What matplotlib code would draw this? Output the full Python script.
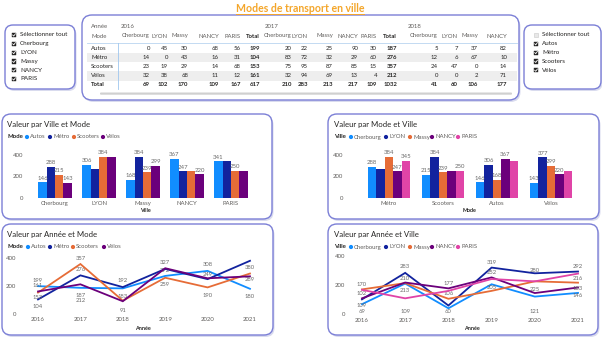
import numpy as np
import matplotlib.pyplot as plt
from matplotlib.patches import FancyBboxPatch, Rectangle, Circle

plt.rcParams['font.family'] = ['Lato', 'DejaVu Sans']

W, H = 602, 337

modes = ['Autos', 'Métro', 'Scooters', 'Vélos']
villes = ['Cherbourg', 'LYON', 'Massy', 'NANCY', 'PARIS']
annees = [2016, 2017, 2018, 2019, 2020, 2021]

# matrix table: rows = modes, columns = villes
tab_2016 = [[0, 45, 30, 68, 56],
            [14, 0, 43, 16, 31],
            [23, 19, 29, 14, 68],
            [32, 38, 68, 11, 12]]
tab_2017 = [[20, 22, 25, 90, 30],
            [83, 72, 32, 29, 60],
            [75, 95, 87, 85, 15],
            [32, 94, 69, 13, 4]]
# 2018: only the first four cities fit before the scroll
tab_2018 = [[5, 7, 37, 82],
            [12, 6, 67, 10],
            [24, 47, 0, 14],
            [0, 0, 2, 71]]

# totals per ville (rows) and mode (columns, same order as modes)
ville_mode = [[146, 288, 215, 143],
              [306, 270, 384, 377],
              [168, 384, 239, 299],
              [367, 247, 250, 220],
              [341, 345, 250, 250]]
ordre_modes_bis = ['Métro', 'Scooters', 'Autos', 'Vélos']

# yearly totals per mode
autos_an = [199, 187, 183, 272, 308, 180]
metro_an = [104, 276, 192, 322, 249, 380]
scooters_an = [153, 357, 95, 259, 190, 289]
velos_an = [161, 212, 91, 327, 255, 269]

# yearly totals per ville
cherbourg_an = [69, 210, 41, 205, 121, 146]
lyon_an = [102, 283, 60, 319, 280, 292]
massy_an = [170, 213, 106, 160, 225, 216]
nancy_an = [109, 217, 177, 252, 145, 183]
paris_an = [167, 109, 160, 241, 225, 278]

col_mode = {'Autos': '#118DFF', 'Métro': '#12239E', 'Scooters': '#E66C37', 'Vélos': '#6B007B'}
col_ville = {'Cherbourg': '#118DFF', 'LYON': '#12239E', 'Massy': '#E66C37',
             'NANCY': '#6B007B', 'PARIS': '#E044A7'}

DARK = '#252423'
GREY = '#605E5C'
LAB = '#6a6a6a'
BORDER = '#7b7fd6'

fig = plt.figure(figsize=(W / 100, H / 100), dpi=100)
bg = fig.add_axes([0, 0, 1, 1])
bg.set_xlim(0, W)
bg.set_ylim(H, 0)
bg.axis('off')


def px_axes(x0, y0, x1, y1):
    ax = fig.add_axes([x0 / W, 1 - y1 / H, (x1 - x0) / W, (y1 - y0) / H])
    ax.patch.set_alpha(0)
    for s in ax.spines.values():
        s.set_visible(False)
    ax.tick_params(length=0, labelsize=4.3, labelcolor=GREY)
    return ax


def panel(x0, y0, x1, y1, r=9):
    bg.add_patch(FancyBboxPatch((x0 + 1.5, y0 + 2), x1 - x0, y1 - y0,
                                boxstyle=f'round,pad=0,rounding_size={r}',
                                fc='#d9dbee', ec='none', zorder=1))
    bg.add_patch(FancyBboxPatch((x0, y0), x1 - x0, y1 - y0,
                                boxstyle=f'round,pad=0,rounding_size={r}',
                                fc='white', ec=BORDER, lw=1.0, zorder=2))


def checkbox(x, y, checked):
    s = 4.2
    if checked:
        bg.add_patch(Rectangle((x - s / 2, y - s / 2), s, s, fc=DARK, ec=DARK, lw=0.3, zorder=5))
        bg.plot([x - 1.3, x - 0.3, x + 1.4], [y, y + 1.1, y - 1.2], color='white', lw=0.6, zorder=6)
    else:
        bg.add_patch(Rectangle((x - s / 2, y - s / 2), s, s, fc='#e8e8e8', ec='#c8c8c8', lw=0.4, zorder=5))


def legend(x_title, y, title, names, dots_x, colors):
    bg.text(x_title, y, title, fontsize=4.3, weight='bold', color=DARK, va='center', zorder=5)
    for name, dx in zip(names, dots_x):
        bg.add_patch(Circle((dx, y), 2.1, fc=colors[name], ec='none', zorder=5))
        bg.text(dx + 3, y, name, fontsize=4.3, color=GREY, va='center', zorder=5)


# ---- title ----
t = bg.text(300, 8, 'Modes de transport en ville', fontsize=7.6, weight='bold',
            color='#F4A62A', ha='center', va='center', zorder=5)
fig.canvas.draw()
bb = t.get_window_extent().transformed(bg.transData.inverted())
bg.plot([bb.x0, bb.x1], [13.5, 13.5], color='#F4A62A', lw=0.7, zorder=5)

# ---- slicers ----
panel(5, 25, 75, 89, r=8)
checkbox(14, 35, True)
bg.text(20, 35, 'Sélectionner tout', fontsize=4.5, color=DARK, va='center', zorder=5)
for k, v in enumerate(villes):
    checkbox(14, 43.8 + 8.8 * k, True)
    bg.text(20, 43.8 + 8.8 * k, v, fontsize=4.5, color=DARK, va='center', zorder=5)

panel(524, 25, 601, 89, r=8)
checkbox(536, 35, False)
bg.text(542, 35, 'Sélectionner tout', fontsize=4.5, color=DARK, va='center', zorder=5)
for k, m in enumerate(modes):
    checkbox(536, 43.8 + 8.8 * k, True)
    bg.text(542, 43.8 + 8.8 * k, m, fontsize=4.5, color=DARK, va='center', zorder=5)

# ---- matrix ----
panel(82, 15, 519, 100, r=10)
row_y = [48, 57.3, 66.6, 75.9, 84.6]
for r in (1, 3):
    bg.add_patch(Rectangle((87, row_y[r] - 4.6), 430, 9.2, fc='#eeeeee', ec='none', zorder=3))
bg.plot([87, 517], [43, 43], color='#b9d5f0', lw=0.6, zorder=4)
bg.plot([118, 118], [43, 89], color='#9fc6ee', lw=0.6, zorder=4)
bg.add_patch(FancyBboxPatch((100, 92.5), 412, 2.2, boxstyle='round,pad=0,rounding_size=1',
                            fc='#d0d0d0', ec='none', zorder=4))
fs_t = 4.3
bg.text(91, 27, 'Année', fontsize=fs_t, color=GREY, va='center', zorder=5)
bg.text(91, 36, 'Mode', fontsize=fs_t, color=GREY, va='center', zorder=5)
for r, name in enumerate(modes + ['Total']):
    bg.text(91, row_y[r], name, fontsize=fs_t, color=DARK, va='center', zorder=5,
            weight='bold' if name == 'Total' else 'normal')


def year_block(year, year_x, cols_x, tab):
    bg.text(year_x, 27, str(year), fontsize=fs_t, color=GREY, va='center', zorder=5)
    arr = np.array(tab)
    n = arr.shape[1]
    with_total = len(cols_x) > n
    heads = villes[:n] + (['Total'] if with_total else [])
    for cx, hname in zip(cols_x, heads):
        bg.text(cx, 36, hname, fontsize=fs_t, color=GREY if hname != 'Total' else DARK,
                weight='bold' if hname == 'Total' else 'normal', ha='right', va='center', zorder=5)
    full = np.vstack([arr, arr.sum(axis=0)])
    if with_total:
        full = np.hstack([full, full.sum(axis=1, keepdims=True)])
    for r in range(full.shape[0]):
        for c in range(full.shape[1]):
            bold = r == full.shape[0] - 1 or (with_total and c == full.shape[1] - 1)
            bg.text(cols_x[c], row_y[r], str(full[r, c]), fontsize=fs_t, color=DARK,
                    weight='bold' if bold else 'normal', ha='right', va='center', zorder=5)


year_block(2016, 121, [150, 168, 188, 219, 241, 260], tab_2016)
year_block(2017, 265, [292, 308, 333, 358, 377, 397], tab_2017)
year_block(2018, 408, [438, 458, 478, 507], tab_2018)

# ---- chart panels ----
panel(2, 114, 272, 219)
panel(328, 114, 599, 219)
panel(2, 224, 273, 335)
panel(328, 224, 598, 335)

titles = [(7, 124, 'Valeur par Ville et Mode'), (334, 124, 'Valeur par Mode et Ville'),
          (7, 234, 'Valeur par Année et Mode'), (334, 234, 'Valeur par Année et Ville')]
for x, y, s in titles:
    bg.text(x, y, s, fontsize=5.6, color=DARK, va='center', zorder=5)

legend(7, 137, 'Mode', modes, [27, 50, 74, 103], col_mode)
legend(7, 247, 'Mode', modes, [28, 50, 73, 104], col_mode)
legend(334, 137, 'Ville', villes, [351, 386, 410, 432, 458], col_ville)
legend(334, 247, 'Ville', villes, [351, 386, 410, 432, 458], col_ville)

for x, y, s in [(145, 211, 'Ville'), (470, 211, 'Mode'), (143, 328, 'Année'), (472, 328, 'Année')]:
    bg.text(x, y, s, fontsize=3.9, weight='bold', color=DARK, ha='center', va='center', zorder=5)


def grouped_bars(ax, groups, series, values, colors, width, ylim_top=420):
    x = np.arange(len(groups))
    n = len(series)
    for j, s in enumerate(series):
        ax.bar(x + (j - (n - 1) / 2) * width, values[j], width, color=colors[s], zorder=3)
    # labels that would collide with the neighbour label are left out
    for i in range(len(groups)):
        last_j, last_v = None, None
        for j in range(n):
            v = values[j][i]
            if last_j is not None and j - last_j == 1 and abs(v - last_v) < 55:
                continue
            ax.annotate(str(v), (x[i] + (j - (n - 1) / 2) * width, v), xytext=(0, 1.2),
                        textcoords='offset points', ha='center', va='bottom',
                        fontsize=4.3, color=LAB, annotation_clip=False)
            last_j, last_v = j, v
    ax.set_xticks(x)
    ax.set_xticklabels(groups)
    ax.set_xlim(-0.6, len(groups) - 0.4)
    ax.set_ylim(0, ylim_top)
    ax.set_yticks([0, 200, 400])


# bars: ville x mode
ax1 = px_axes(28.6, 152.8, 257.4, 198)
vals1 = [[ville_mode[i][j] for i in range(len(villes))] for j in range(len(modes))]
grouped_bars(ax1, villes, modes, vals1, col_mode, 0.19)
ax1.tick_params(axis='y', pad=4)
ax1.tick_params(axis='x', pad=2)

# bars: mode x ville
ax2 = px_axes(356.6, 152.8, 583.4, 198)
vals2 = [[ville_mode[i][modes.index(m)] for m in ordre_modes_bis] for i in range(len(villes))]
grouped_bars(ax2, ordre_modes_bis, villes, vals2, col_ville, 0.155)
ax2.tick_params(axis='y', pad=9.5)
ax2.tick_params(axis='x', pad=2)

# label offsets in pixels (positive = above the point, None = no label)
offs_mode = {'Autos': [6, -8, -8, 5, 6, -8],
             'Métro': [-7, 6, 7, None, 5, -7],
             'Scooters': [-5, 6, None, -7, -8, -6],
             'Vélos': [6, -16, -9, 6, None, None]}
offs_ville = {'Cherbourg': [-7, 5, None, -3, -15, -3],
              'LYON': [6, 6, -6, 5, 3, 5],
              'Massy': [5, -7, 5, None, -8, 4],
              'NANCY': [-7, None, 5, 5, None, -1],
              'PARIS': [None, -13, None, None, None, None]}


def lines(ax, series, data, colors, offs):
    for s, ys in zip(series, data):
        ax.plot(annees, ys, color=colors[s], lw=1.3, zorder=3, solid_joinstyle='miter')
        for xv, yv, o in zip(annees, ys, offs[s]):
            if o is None:
                continue
            ax.annotate(str(yv), (xv, yv), xytext=(0, o * 0.72), textcoords='offset points',
                        ha='center', va='center', fontsize=4.2, color=LAB, annotation_clip=False)
    ax.set_xlim(2015.7, 2021.3)
    ax.set_ylim(0, 420)
    ax.set_yticks([0, 200, 400])
    ax.set_xticks(annees)
    ax.set_xticklabels([str(a) for a in annees])
    ax.tick_params(axis='x', pad=2.5)


ax3 = px_axes(25.3, 255.2, 262.7, 314)
lines(ax3, modes, [autos_an, metro_an, scooters_an, velos_an], col_mode, offs_mode)
ax3.tick_params(axis='y', pad=6.5)

ax4 = px_axes(349, 252.8, 591, 314.3)
lines(ax4, villes, [cherbourg_an, lyon_an, massy_an, nancy_an, paris_an], col_ville, offs_ville)
ax4.tick_params(axis='y', pad=3)

fig.savefig('out.png', dpi=100)
